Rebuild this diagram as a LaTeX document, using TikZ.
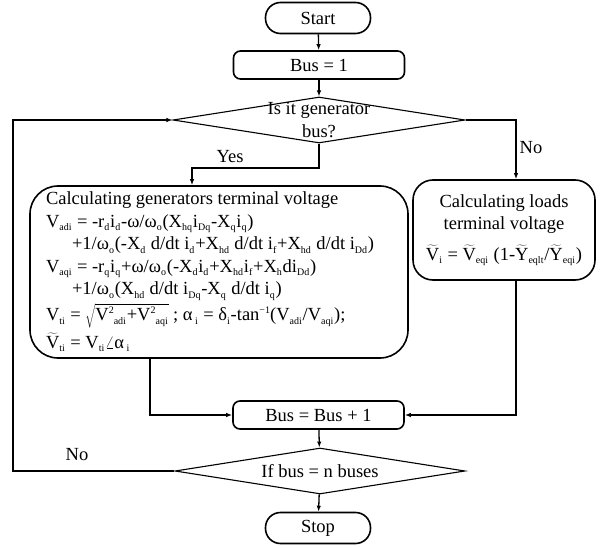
\documentclass[tikz,border=0pt]{standalone}
\usepackage{fontspec}
\setmainfont{Liberation Serif}
\usetikzlibrary{shapes.geometric,arrows.meta,calc}
% small lowered / raised indices in the text font
\newcommand\lo[1]{\raisebox{-0.4ex}{\fontsize{10}{10}\selectfont #1}\kern0.8pt\relax}
\newcommand\hi[1]{\raisebox{0.9ex}{\fontsize{10}{10}\selectfont #1}}
\newcommand\tV{$\widetilde{\mathrm{V}}$}
\newcommand\tY{$\widetilde{\mathrm{Y}}$}
\begin{document}
\begin{tikzpicture}[x=1pt,y=-1pt,
  every node/.style={font=\fontsize{18.5}{22.5}\selectfont},
  term/.style={draw, line width=1.6pt, rounded corners=15pt,
    minimum width=105pt, minimum height=31pt, inner sep=0pt},
  proc/.style={draw, line width=1.6pt, rounded corners=7pt,
    minimum width=171pt, minimum height=28pt, inner sep=0pt},
  bigbox/.style={draw, line width=1.6pt, inner sep=0pt},
  dec/.style={draw, diamond, line width=1.1pt, inner sep=0pt},
  lbl/.style={inner sep=0pt},
  arr/.style={line width=1.3pt, -{Latex[length=6pt,width=4.5pt]}}
]
\useasboundingbox (0,0) rectangle (602,548);

% terminals and simple steps
\node[term] (start) at (318,18) {Start};
\node[proc] (bus1) at (319,65) {Bus = 1};
\node[dec, minimum width=292pt, minimum height=46pt,
  label={[lbl, align=center]center:Is it generator\\bus?}] (d1) at (319,120) {};

% generator branch
\node[bigbox, rounded corners=28pt, minimum width=378pt, minimum height=172pt]
  (gen) at (219,272) {\makebox[346pt][l]{\begin{tabular}{@{}l@{}}
Calculating generators terminal voltage\\
V\lo{adi} = -r\lo{d}i\lo{d}-ω/ω\lo{o}(X\lo{hq}i\lo{Dq}-X\lo{q}i\lo{q})\\
\hspace{26pt}+1/ω\lo{o}(-X\lo{d} d/dt i\lo{d}+X\lo{hd} d/dt i\lo{f}+X\lo{hd} d/dt i\lo{Dd})\\
V\lo{aqi} = -r\lo{q}i\lo{q}+ω/ω\lo{o}(-X\lo{d}i\lo{d}+X\lo{hd}i\lo{f}+X\lo{h}di\lo{Dd})\\
\hspace{26pt}+1/ω\lo{o}(X\lo{hd} d/dt i\lo{Dq}-X\lo{q} d/dt i\lo{q})\\[2pt]
V\lo{ti} = $\sqrt{\hbox{V\hi{2}\lo{adi}+V\hi{2}\lo{aqi}}}$ ; α\lo{ i} = δ\lo{i}-tan\hi{−1}(V\lo{adi}/V\lo{aqi});\\[5pt]
\tV\lo{ti} = V\lo{ti}$\angle$α\lo{ i}
\end{tabular}}};

% load branch
\node[bigbox, rounded corners=20pt, minimum width=182pt, minimum height=100pt,
  align=center] (load) at (504,230) {%
Calculating loads\\terminal voltage\\[8pt]
\tV\lo{i} = \tV\lo{eqi} (1-\tY\lo{eqlt}/\tY\lo{eqi})};

\node[proc] (inc) at (318.5,415) {Bus = Bus + 1};
\node[dec, minimum width=290pt, minimum height=46pt,
  label={[lbl]center:If bus = n buses}] (d2) at (320,471) {};
\node[term] (stop) at (318,528) {Stop};

% routing points
\coordinate (yx) at (192,168);
\coordinate (lx) at (516,0);
\coordinate (gx) at (150,0);
\coordinate (fx) at (13,0);

% connectors
\draw[arr] (start) -- (bus1);
\draw[arr] (bus1) -- (d1);
\draw[arr] (d1.south) |- (yx) -- (yx |- gen.north);
\draw[arr] (d1.east) -| (lx |- load.north);
\draw[arr] (gx |- gen.south) |- (inc.west);
\draw[arr] (lx |- load.south) |- (inc.east);
\draw[arr] (inc) -- (d2);
\draw[arr] (d2) -- (stop);
\draw[arr] (d2.west) -- (fx |- d2.west) -- (fx |- d1.west) -- (d1.west);

% branch labels
\node[lbl] (yes) at (230,157) {Yes};
\node[lbl] (no1) at (531,148) {No};
\node[lbl] (no2) at (77,455) {No};
\end{tikzpicture}
\end{document}
